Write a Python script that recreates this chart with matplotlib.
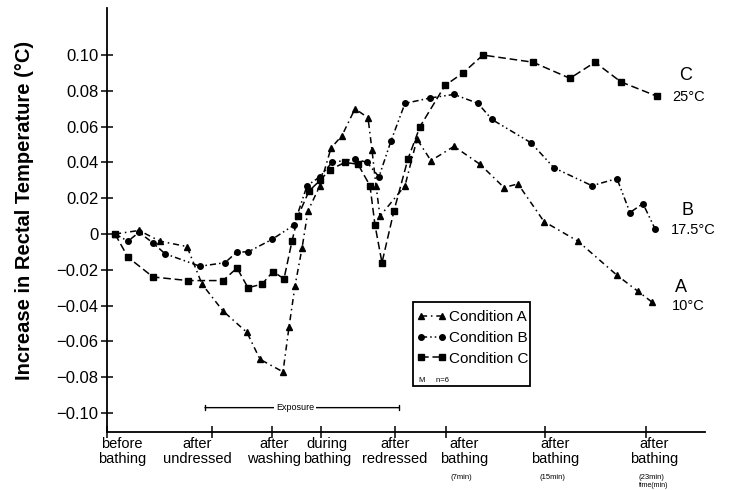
import matplotlib
matplotlib.use('Agg')
import matplotlib.pyplot as plt
from matplotlib.patches import Rectangle

# x is a time scale in arbitrary units, 0 = "before bathing" axis origin
a_x = [0.8, 3.2, 5.3, 8.0, 9.5, 11.6, 14.0, 15.3, 17.6, 18.2, 18.8, 19.5, 20.1,
       21.3, 22.4, 23.5, 24.8, 26.1, 26.5, 26.9, 27.3, 29.8, 31.0, 32.4, 34.7,
       37.3, 39.7, 41.1, 43.7, 47.1, 51.0, 53.1, 54.5]
a_y = [0, 0.002, -0.004, -0.007, -0.028, -0.043, -0.055, -0.070, -0.077, -0.052,
       -0.029, -0.008, 0.013, 0.027, 0.048, 0.055, 0.070, 0.065, 0.047, 0.027,
       0.010, 0.027, 0.053, 0.041, 0.049, 0.039, 0.026, 0.028, 0.007, -0.004,
       -0.023, -0.032, -0.038]

b_x = [0.8, 2.1, 3.2, 4.6, 5.8, 9.3, 11.8, 13.0, 14.1, 16.5, 18.7, 20.0, 21.3,
       22.5, 24.8, 26.0, 27.2, 28.4, 29.8, 32.3, 34.7, 37.1, 38.5, 42.4, 44.7,
       48.5, 51.0, 52.3, 53.6, 54.8]
b_y = [0, -0.004, 0.001, -0.005, -0.011, -0.018, -0.016, -0.010, -0.010, -0.003,
       0.005, 0.027, 0.032, 0.040, 0.042, 0.040, 0.032, 0.052, 0.073, 0.076,
       0.078, 0.073, 0.064, 0.051, 0.037, 0.027, 0.031, 0.012, 0.017, 0.003]

c_x = [0.8, 2.1, 4.6, 8.1, 11.6, 13.0, 14.1, 15.5, 16.6, 17.7, 18.5, 19.1, 20.2,
       21.3, 22.3, 23.8, 25.1, 26.3, 26.8, 27.5, 28.7, 30.1, 31.3, 33.8, 35.6,
       37.6, 42.6, 46.3, 48.8, 51.4, 55.0]
c_y = [0, -0.013, -0.024, -0.026, -0.026, -0.019, -0.030, -0.028, -0.021, -0.025,
       -0.004, 0.010, 0.024, 0.030, 0.036, 0.040, 0.039, 0.027, 0.005, -0.016,
       0.013, 0.042, 0.060, 0.083, 0.090, 0.100, 0.096, 0.087, 0.096, 0.085, 0.077]

tick_x = [0, 10.5, 16.5, 21.4, 28.8, 33.9, 43.8, 53.9]
label_x = [1.5, 9.0, 16.7, 22.0, 28.8, 35.7, 44.8, 54.7]
stage_labels = ['before\nbathing', 'after\nundressed', 'after\nwashing',
                'during\nbathing', 'after\nredressed', 'after\nbathing',
                'after\nbathing', 'after\nbathing']
sub_labels = ['(7min)', '(15min)', '(23min)']
y_ticks = [0.10, 0.08, 0.06, 0.04, 0.02, 0, -0.02, -0.04, -0.06, -0.08, -0.10]
y_tick_labels = ['0.10', '0.08', '0.06', '0.04', '0.02', '0',
                 '\u22120.02', '\u22120.04', '\u22120.06', '\u22120.08', '\u22120.10']
end_letters = ['A', 'B', 'C']
end_temps = ['10°C', '17.5°C', '25°C']

plt.rcParams['font.family'] = ['Liberation Sans', 'DejaVu Sans']

fig = plt.figure(figsize=(7.29, 4.90), dpi=100)
ax = fig.add_axes([0.1468, 0.1184, 0.8202, 0.8653])

ax.plot(a_x, a_y, color='black', lw=1.1, ls=(0, (4, 2.5, 1, 2.5)),
        marker='^', ms=4.5, label='Condition A')
ax.plot(b_x, b_y, color='black', lw=1.1, ls=(0, (4, 2, 1, 2, 1, 2)),
        marker='o', ms=4, label='Condition B')
ax.plot(c_x, c_y, color='black', lw=1.1, ls=(0, (5, 2.5)),
        marker='s', ms=3.8, label='Condition C')

ax.set_xlim(0, 59.8)
ax.set_ylim(-0.1106, 0.1263)
ax.spines['top'].set_visible(False)
ax.spines['right'].set_visible(False)
ax.spines['left'].set_linewidth(1.3)
ax.spines['bottom'].set_linewidth(1.3)

ax.set_yticks(y_ticks)
ax.set_yticklabels(y_tick_labels, fontsize=12)
ax.set_xticks(tick_x)
ax.set_xticklabels([])
ax.tick_params(axis='both', direction='inout', length=8, width=1.1, pad=2)

xtr = ax.get_xaxis_transform()
for x, lab in zip(label_x, stage_labels):
    ax.text(x, -0.012, lab, transform=xtr, ha='center', va='top',
            fontsize=10.5, linespacing=1.05)
for x, lab in zip(label_x[5:], sub_labels):
    ax.text(x - 0.3, -0.1, lab, transform=xtr, ha='center', va='top', fontsize=5.5)
ax.text(label_x[-1], -0.118, 'time(min)', transform=xtr, ha='center', va='top',
        fontsize=5)

fig.text(0.034, 0.571, 'Increase in Rectal Temperature (°C)', rotation=90,
         ha='center', va='center', fontsize=14.5, fontweight='bold')

# exposure bar
ax.annotate('', xy=(29.2, -0.097), xytext=(9.8, -0.097),
            arrowprops=dict(arrowstyle='|-|, widthA=0.2, widthB=0.2', lw=1,
                            color='black', shrinkA=0, shrinkB=0))
ax.text(18.8, -0.097, 'Exposure', ha='center', va='center', fontsize=6.5,
        bbox=dict(fc='white', ec='none', pad=1.5))

# end-of-curve labels
ax.text(57.4, -0.030, end_letters[0], ha='center', va='center', fontsize=13)
ax.text(58.1, -0.040, end_temps[0], ha='center', va='center', fontsize=10.5)
ax.text(58.1, 0.0134, end_letters[1], ha='center', va='center', fontsize=13)
ax.text(58.6, 0.0022, end_temps[1], ha='center', va='center', fontsize=10.5)
ax.text(57.9, 0.0883, end_letters[2], ha='center', va='center', fontsize=13)
ax.text(58.2, 0.0765, end_temps[2], ha='center', va='center', fontsize=10.5)

# legend
fig.add_artist(Rectangle((413 / 729, 1 - 386 / 490), 117 / 729, 84 / 490,
                         transform=fig.transFigure, fill=False, ec='black', lw=1.3))
handles, labels = ax.get_legend_handles_labels()
leg = fig.legend(handles, labels, loc='upper left',
                 bbox_to_anchor=(416 / 729, 1 - 310 / 490), frameon=False,
                 numpoints=2, handlelength=2.0, handletextpad=0.15,
                 labelspacing=0.45, borderpad=0, borderaxespad=0,
                 prop={'size': 11})
fig.text(419 / 729, 1 - 380 / 490, 'M     n=6', fontsize=5.5, va='center')

fig.savefig('out.png', dpi=100)
